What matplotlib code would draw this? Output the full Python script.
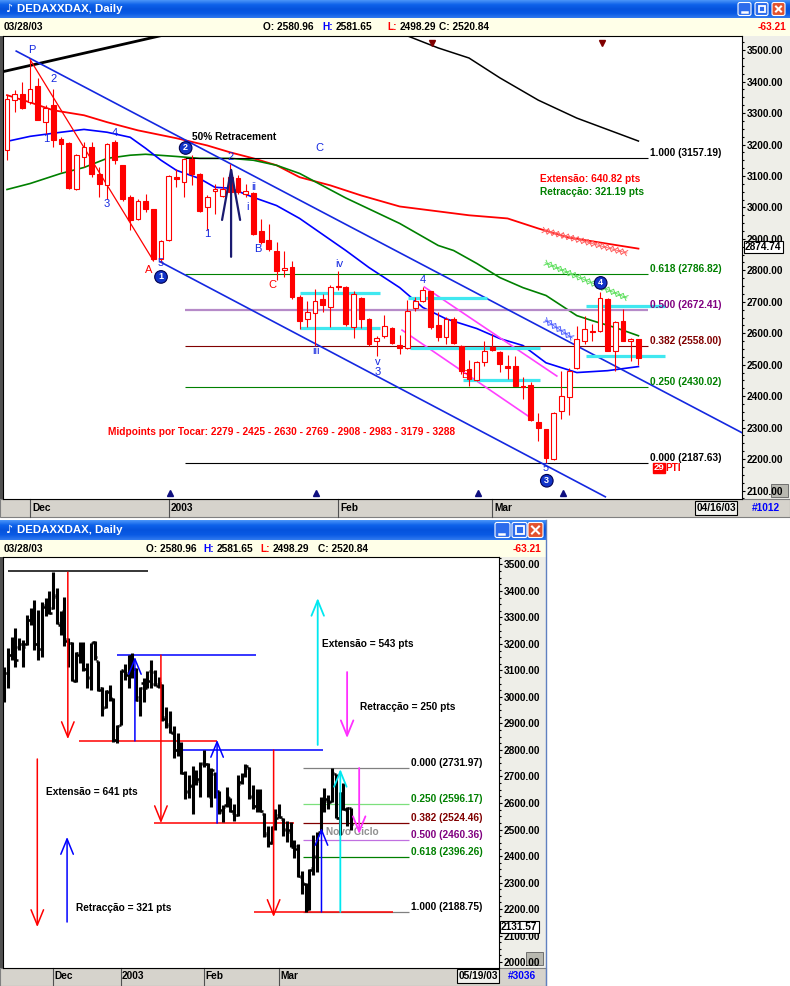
import numpy as np
import matplotlib
matplotlib.use('Agg')
import matplotlib.pyplot as plt
from matplotlib.patches import Rectangle, FancyBboxPatch
from matplotlib.colors import LinearSegmentedColormap
from matplotlib.ticker import MultipleLocator, StrMethodFormatter
from matplotlib import patheffects as pe

W, H = 790, 986
plt.rcParams['font.family'] = ['Liberation Sans', 'DejaVu Sans']
plt.rcParams['font.weight'] = 'bold'
plt.rcParams['font.size'] = 7.3

# ---- DAX daily prices, bar 0 = 27 Nov 2002 ... bar 82 = 28 Mar 2003
opens = [3182, 3341, 3360, 3335, 3385, 3272, 3325, 3219, 3205, 3059,
         3160, 3192, 3107, 3070, 3208, 3134, 3033, 2964, 3020, 2994,
         2836, 2895, 3097, 3081, 3155, 3107, 3001, 3052, 3035, 3097,
         3094, 3043, 3046, 2925, 2897, 2863, 2801, 2810, 2714, 2645,
         2663, 2709, 2682, 2751, 2748, 2621, 2711, 2645, 2574, 2592,
         2617, 2563, 2553, 2680, 2704, 2733, 2627, 2589, 2645, 2560,
         2486, 2451, 2507, 2555, 2539, 2497, 2497, 2433, 2436, 2319,
         2295, 2200, 2353, 2396, 2489, 2576, 2608, 2608, 2709, 2545,
         2638, 2575, 2580.96]
highs = [3357, 3373, 3399, 3470, 3410, 3325, 3378, 3224, 3207, 3171,
         3208, 3208, 3128, 3205, 3213, 3136, 3038, 3028, 3044, 2996,
         2895, 3102, 3123, 3158, 3166, 3109, 3038, 3073, 3097, 3139,
         3102, 3075, 3048, 2964, 2948, 2890, 2863, 2831, 2720, 2704,
         2741, 2725, 2754, 2799, 2750, 2733, 2716, 2647, 2592, 2659,
         2619, 2595, 2706, 2714, 2746, 2735, 2667, 2651, 2651, 2563,
         2515, 2513, 2576, 2598, 2544, 2532, 2529, 2462, 2444, 2345,
         2297, 2350, 2481, 2490, 2624, 2656, 2630, 2732, 2711, 2640,
         2677, 2585, 2581.65]
lows = [3150, 3304, 3314, 3330, 3277, 3235, 3192, 3112, 3059, 3056,
        3128, 3097, 3033, 3028, 3139, 3022, 2927, 2959, 2985, 2831,
        2826, 2893, 3065, 3033, 3070, 2985, 2927, 2980, 3033, 3033,
        3043, 3033, 2911, 2884, 2863, 2768, 2778, 2709, 2614, 2619,
        2560, 2667, 2621, 2736, 2624, 2585, 2617, 2560, 2529, 2585,
        2566, 2534, 2550, 2672, 2698, 2614, 2576, 2566, 2566, 2470,
        2433, 2447, 2497, 2544, 2476, 2454, 2433, 2391, 2322, 2258,
        2188, 2196, 2327, 2340, 2486, 2566, 2576, 2603, 2543, 2481,
        2574, 2513, 2498.29]
closes = [3346, 3362, 3317, 3378, 3279, 3317, 3213, 3203, 3063, 3166,
          3192, 3107, 3075, 3203, 3150, 3028, 2959, 3022, 2996, 2836,
          2892, 3100, 3089, 3155, 3107, 2990, 3033, 3058, 3059, 3049,
          3049, 3052, 2916, 2890, 2868, 2799, 2808, 2714, 2640, 2669,
          2704, 2691, 2746, 2746, 2629, 2725, 2645, 2566, 2585, 2624,
          2568, 2553, 2672, 2704, 2738, 2621, 2589, 2645, 2568, 2481,
          2454, 2509, 2544, 2547, 2502, 2491, 2433, 2428, 2324, 2300,
          2203, 2348, 2401, 2481, 2582, 2614, 2603, 2712, 2545, 2635,
          2576, 2582, 2520.84]

# earlier bars, only shown on the lower chart (bar -10 ... -1)
pre_opens = [3000, 3090, 3160, 3210, 3190, 3200, 3200, 3290, 3320, 3200]
pre_highs = [3114, 3183, 3227, 3259, 3221, 3215, 3309, 3334, 3366, 3328]
pre_lows = [2982, 3033, 3139, 3114, 3177, 3114, 3196, 3271, 3177, 3139]
pre_closes = [3090, 3160, 3210, 3140, 3200, 3190, 3290, 3320, 3200, 3180]

# moving averages (bar index, value)
ma_red_idx = [0, 3, 6, 10, 13, 17, 22, 26, 29, 32, 35, 38, 42, 46, 51, 60, 65, 69, 73, 82]
ma_red_val = [3357, 3334, 3309, 3293, 3271, 3245, 3220, 3197, 3175, 3156, 3134, 3096, 3070,
              3038, 3003, 2975, 2965, 2933, 2904, 2869]
ma_green_idx = [0, 3, 7, 10, 13, 16, 18, 22, 25, 29, 32, 35, 38, 44, 51, 56, 58, 61, 64, 67,
                70, 74, 76, 79, 82]
ma_green_val = [3057, 3076, 3108, 3127, 3156, 3166, 3169, 3162, 3156, 3156, 3150, 3134, 3108,
                3030, 2949, 2879, 2863, 2822, 2777, 2745, 2720, 2656, 2640, 2618, 2592]
ma_blue_idx = [0, 3, 7, 10, 13, 16, 18, 20, 22, 25, 27, 29, 32, 35, 38, 44, 47, 51, 54, 57,
               61, 64, 67, 70, 74, 78, 82]
ma_blue_val = [3210, 3226, 3239, 3248, 3239, 3223, 3188, 3150, 3118, 3092, 3064, 3061, 3032,
               3006, 2965, 2863, 2809, 2745, 2682, 2646, 2615, 2583, 2561, 2506, 2475, 2481, 2494]
ma_black_idx = [51, 56, 60, 64, 69, 74, 82]
ma_black_val = [3555, 3507, 3475, 3412, 3341, 3284, 3211]

month_idx = [3, 21, 43, 63]
month_labels = ['Dec', '2003', 'Feb', 'Mar']

fib_top_ratio = ['1.000', '0.618', '0.500', '0.382', '0.250', '0.000']
fib_top_price = [3157.19, 2786.82, 2672.41, 2558.00, 2430.02, 2187.63]
fib_top_line = ['#000000', '#008000', '#B68AC8', '#800000', '#008000', '#000000']
fib_top_text = ['#000000', '#008000', '#800080', '#800000', '#008000', '#000000']

fib_low_ratio = ['0.000', '0.250', '0.382', '0.500', '0.618', '1.000']
fib_low_price = [2731.97, 2596.17, 2524.46, 2460.36, 2396.26, 2188.75]
fib_low_line = ['#808080', '#7CE07C', '#800000', '#C070E0', '#008000', '#808080']
fib_low_text = ['#000000', '#008000', '#800000', '#800080', '#008000', '#000000']

midpoints = [2279, 2425, 2630, 2769, 2908, 2983, 3179, 3288]
ext_pts, retr_pts = 640.82, 321.19
last_o, last_h, last_l, last_c, last_chg = 2580.96, 2581.65, 2498.29, 2520.84, -63.21

BLUE = '#1428E0'
RED = '#FF0000'


def rect(x0, y0, x1, y1):
    return [x0 / W, 1 - y1 / H, (x1 - x0) / W, (y1 - y0) / H]


fig = plt.figure(figsize=(W / 100, H / 100), dpi=100)
fig.patch.set_facecolor('white')
bg = fig.add_axes([0, 0, 1, 1])
bg.axis('off')

title_cmap = LinearSegmentedColormap.from_list('xp', ['#4A94F8', '#0E62EA', '#0553DD', '#0A5AE4', '#3079EE'])
grad = np.linspace(0, 1, 40).reshape(-1, 1)


def window_chrome(x1, y_title, y_info, y_plot, y_strip, y_end, x_axis, buttons_x):
    bg.imshow(grad, cmap=title_cmap, extent=(0, x1, y_info, y_title), aspect='auto', zorder=1)
    bg.add_patch(Rectangle((0, y_info), x1, y_plot - y_info, fc='#FFFFE8', ec='none', zorder=1))
    bg.add_patch(Rectangle((0, y_plot), 3, y_strip - y_plot, fc='#505050', ec='none', zorder=1))
    bg.add_patch(Rectangle((x_axis, y_plot), x1 - x_axis, y_strip - y_plot, fc='#EEEEE8', ec='none', zorder=1))
    bg.add_patch(Rectangle((0, y_strip), x1, y_end - y_strip, fc='#D6D3CC', ec='#808080', lw=0.8, zorder=1))
    size = y_info - y_title - 5
    for bx, kind in zip(buttons_x, ['min', 'max', 'close']):
        by = y_title + 2.5
        fc = '#E2522E' if kind == 'close' else '#2C6CEC'
        bg.add_patch(FancyBboxPatch((bx, by), size, size, boxstyle='round,pad=0,rounding_size=2',
                                    fc=fc, ec='white', lw=0.8, zorder=3))
        if kind == 'min':
            bg.plot([bx + 4, bx + 9], [by + size - 4] * 2, color='white', lw=1.8, zorder=4)
        elif kind == 'max':
            bg.add_patch(Rectangle((bx + 3.5, by + 3.5), size - 7, size - 7, fill=False,
                                   ec='white', lw=1.3, zorder=4))
        else:
            bg.plot([bx + 4, bx + size - 4], [by + 4, by + size - 4], color='white', lw=1.5, zorder=4)
            bg.plot([bx + 4, bx + size - 4], [by + size - 4, by + 4], color='white', lw=1.5, zorder=4)
    ym = (y_title + y_info) / 2
    bg.text(5, ym, '\u266a', color='white', fontsize=8, va='center', family='DejaVu Sans', zorder=4)
    bg.text(17, ym, 'DEDAXXDAX, Daily', color='white', fontsize=8.2, va='center', zorder=4)


def info_texts(y, xs, right_x):
    bg.text(4, y, '03/28/03', va='center', zorder=4)
    bg.text(xs[0], y, f'O: {last_o:.2f}', va='center', zorder=4)
    bg.text(xs[1], y, 'H:', color='#0000FF', va='center', zorder=4)
    bg.text(xs[1] + 13.5, y, f'{last_h:.2f}', va='center', zorder=4)
    bg.text(xs[2], y, 'L:', color=RED, va='center', zorder=4)
    bg.text(xs[2] + 12.5, y, f'{last_l:.2f}', va='center', zorder=4)
    bg.text(xs[3], y, f'C: {last_c:.2f}', va='center', zorder=4)
    bg.text(right_x, y, f'{last_chg:.2f}', color=RED, ha='right', va='center', zorder=4)


window_chrome(790, 0, 18, 36, 499, 517, 742, [738, 755, 772])
window_chrome(546, 520, 540, 557, 968, 986, 499, [495, 512, 528])
bg.plot([546, 546], [520, 986], color='#6080C0', lw=1, zorder=2)
info_texts(27, [263, 322, 387, 439], 786)
info_texts(549, [146, 203, 260, 318], 541)
bg.text(716, 508, '04/16/03', ha='center', va='center', zorder=4,
        bbox=dict(fc='#F2F2EE', ec='black', lw=0.8, boxstyle='square,pad=0.15'))
bg.text(766, 508, '#1012', ha='center', va='center', color='#0000FF', zorder=4)
bg.text(478, 976, '05/19/03', ha='center', va='center', zorder=4,
        bbox=dict(fc='#F2F2EE', ec='black', lw=0.8, boxstyle='square,pad=0.15'))
bg.text(522, 976, '#3036', ha='center', va='center', color='#0000FF', zorder=4)
bg.add_patch(Rectangle((771, 484), 17, 13, fc='#B8B8B0', ec='#606060', lw=0.6, zorder=3))
bg.add_patch(Rectangle((526, 952), 17, 13, fc='#B8B8B0', ec='#606060', lw=0.6, zorder=3))
bg.set_xlim(0, W)
bg.set_ylim(H, 0)


def style_price_axis(ax, ticks):
    ax.set_xticks([])
    ax.yaxis.tick_right()
    ax.set_yticks(ticks)
    ax.yaxis.set_major_formatter(StrMethodFormatter('{x:.2f}'))
    ax.yaxis.set_minor_locator(MultipleLocator(25))
    ax.tick_params(axis='y', which='major', direction='out', length=2.5, width=0.8, pad=0.8, labelsize=7.3)
    ax.tick_params(axis='y', which='minor', direction='out', length=1.2, width=0.8)
    for s in ax.spines.values():
        s.set_linewidth(0.8)


def date_strip(ax, y_mid, y_bot):
    for idx, lab in zip(month_idx, month_labels):
        ax.plot([idx, idx], [0, y_bot], color='#505050', lw=0.8, transform=ax.get_xaxis_transform(),
                clip_on=False)
        ax.text(idx + 0.3, y_mid, lab, transform=ax.get_xaxis_transform(), va='center', ha='left',
                clip_on=False)


def arrow(ax, x, y_from, y_to, color, lw=1.1, hl=1.1, hw=0.45):
    ax.annotate('', xy=(x, y_to), xytext=(x, y_from), zorder=7,
                arrowprops=dict(arrowstyle=f'->,head_length={hl},head_width={hw}', color=color,
                                lw=lw, shrinkA=0, shrinkB=0, mutation_scale=10))


def crossed_line(ax, xs, ys, color):
    effects = [pe.TickedStroke(spacing=3.6, angle=a, length=0.75, linewidth=0.7, foreground=color)
               for a in (45, -135, 135, -45)] + [pe.Normal()]
    ax.plot(xs, ys, color=color, lw=0.6, path_effects=effects, zorder=6)


# ======================= upper chart: candlesticks =======================
ax1 = fig.add_axes(rect(3, 36, 742, 499))
ax1.set_xlim(-0.52, 95.45)
ax1.set_ylim(2073, 3545)
style_price_axis(ax1, range(2100, 3501, 100))
date_strip(ax1, -0.0205, -0.039)

ax1.plot(ma_black_idx, ma_black_val, color='black', lw=1.1, zorder=2)
ax1.plot([-1, 25], [3429, 3574], color='black', lw=2.0, zorder=2)
ax1.plot(ma_red_idx, ma_red_val, color=RED, lw=1.3, zorder=2)
ax1.plot(ma_green_idx, ma_green_val, color='#008000', lw=1.2, zorder=2)
ax1.plot(ma_blue_idx, ma_blue_val, color='#0000FF', lw=1.2, zorder=2)

for price, lc, tc, ratio in zip(fib_top_price, fib_top_line, fib_top_text, fib_top_ratio):
    ax1.hlines(price, 23.1, 83.2, color=lc, lw=1.6 if ratio == '0.500' else 0.8, zorder=2)
    ax1.text(83.5, price, f'{ratio} ({price:.2f})', color=tc, va='bottom', ha='left', zorder=6)

# trend channel and wave lines
ax1.plot([1.2, 95.5], [3497, 2283], color=BLUE, lw=1.2, zorder=3)
ax1.plot([19.9, 77.7], [2827, 2080], color=BLUE, lw=1.2, zorder=3)
ax1.plot([3, 19], [highs[3], lows[19]], color=RED, lw=0.9, zorder=3)
ax1.plot([54.2, 71.4], [2747, 2464], color='#FF40FF', lw=1.2, zorder=3)
ax1.plot([51.3, 68.2], [2610, 2328], color='#FF40FF', lw=1.2, zorder=3)

for y, x0, x1 in [(2728, 38.1, 48.4), (2617, 38.1, 48.4), (2712, 52.1, 62.3), (2554, 52.3, 69.2),
                  (2452, 59.2, 69.2), (2687, 75.2, 85.5), (2528, 75.2, 85.5)]:
    ax1.hlines(y, x0, x1, color='#40E8F0', lw=2.3, zorder=4)

crossed_line(ax1, [69.6, 80.5], [2928, 2855], '#FF6060')
crossed_line(ax1, [69.9, 80.5], [2824, 2712], '#60E060')
crossed_line(ax1, [69.9, 73.4], [2642, 2585], '#5060FF')

for i in range(len(opens)):
    ax1.vlines(i, lows[i], highs[i], color=RED, lw=0.8, zorder=5)
    lo, hi = sorted((opens[i], closes[i]))
    up = closes[i] >= opens[i]
    ax1.add_patch(Rectangle((i - 0.31, lo), 0.62, max(hi - lo, 3), fc='white' if up else RED,
                            ec=RED, lw=0.8, zorder=5))

arrow(ax1, 29.1, 2843, highs[29], '#1A1A70', lw=1.6, hl=3.6, hw=0.65)

wave_labels = [(3.25, 3500, 'P', BLUE), (6.0, 3408, '2', BLUE), (5.1, 3218, '1', BLUE),
               (14.0, 3237, '4', BLUE), (13.0, 3011, '3', BLUE), (18.4, 2801, 'A', RED),
               (20.0, 2823, '5', BLUE), (29.0, 3160, '2', BLUE), (40.6, 3189, 'C', BLUE),
               (26.0, 2916, '1', BLUE), (32.1, 3065, 'ii', BLUE), (31.2, 3001, 'i', BLUE),
               (32.6, 2868, 'B', BLUE), (34.5, 2754, 'C', RED), (43.1, 2820, 'iv', BLUE),
               (40.1, 2544, 'iii', BLUE), (48.1, 2509, 'v', BLUE), (48.1, 2477, '3', BLUE),
               (54.0, 2769, '4', BLUE), (59.5, 2467, 'B', RED), (70.0, 2172, '5', BLUE)]
for x, y, t, col in wave_labels:
    ax1.text(x, y, t, color=col, ha='center', va='center', fontsize=8, fontweight='normal', zorder=8)
for x, y, t in [(20.0, 2779, '1'), (23.2, 3189, '2'), (70.1, 2131, '3'), (77.1, 2760, '4')]:
    ax1.text(x, y, t, color='white', ha='center', va='center', fontsize=6.5, zorder=8,
             bbox=dict(boxstyle='circle,pad=0.2', fc='#1234C8', ec='#000050', lw=0.8))

ax1.text(24.0, 3224, '50% Retracement', color='black', ha='left', va='center', zorder=8)
ax1.text(69.2, 3090, f'Extens\u00e3o: {ext_pts:.2f} pts', color=RED, ha='left', va='center', zorder=8)
ax1.text(69.2, 3049, f'Retrac\u00e7\u00e3o: {retr_pts:.2f} pts', color='#008000', ha='left', va='center', zorder=8)
ax1.text(13.1, 2286, 'Midpoints por Tocar: ' + ' - '.join(str(m) for m in midpoints), color=RED,
         ha='left', va='center', zorder=8)
ax1.text(84.0, 2172, '29', color='white', ha='left', va='center', fontsize=6.8, zorder=8,
         bbox=dict(boxstyle='square,pad=0.08', fc=RED, ec=RED))
ax1.text(85.5, 2172, 'PTI', color=RED, ha='left', va='center', zorder=8)

ax1.plot([21.2, 40.1, 61.2, 72.2], [0.012] * 4, '^', ms=4, color='#101080',
         transform=ax1.get_xaxis_transform(), zorder=8)
ax1.plot([55.2, 77.3], [0.984] * 2, 'v', ms=4, color='#800000', transform=ax1.get_xaxis_transform(), zorder=8)
ax1.text(1.004, 2874.74, '2874.74', transform=ax1.get_yaxis_transform(), ha='left', va='center',
         clip_on=False, zorder=9, bbox=dict(boxstyle='square,pad=0.12', fc='white', ec='black', lw=0.8))

# ======================= lower chart: OHLC bars =======================
ax2 = fig.add_axes(rect(3, 557, 499, 968))
ax2.set_xlim(-10.3, 121.3)
ax2.set_ylim(1977.6, 3528)
style_price_axis(ax2, range(2000, 3501, 100))
date_strip(ax2, -0.0195, -0.044)

bar_idx = np.arange(-len(pre_opens), len(opens))
o_all = np.array(pre_opens + opens)
h_all = np.array(pre_highs + highs)
l_all = np.array(pre_lows + lows)
c_all = np.array(pre_closes + closes)
ax2.vlines(bar_idx, l_all, h_all, color='black', lw=2.2, zorder=5)
ax2.hlines(o_all, bar_idx - 0.6, bar_idx, color='black', lw=1.8, zorder=5)
ax2.hlines(c_all, bar_idx, bar_idx + 0.6, color='black', lw=1.8, zorder=5)

for price, lc, tc, ratio in zip(fib_low_price, fib_low_line, fib_low_text, fib_low_ratio):
    ax2.hlines(price, 69.4, 97.4, color=lc, lw=0.9, zorder=3)
    ax2.text(98.0, price, f'{ratio} ({price:.2f})', color=tc, va='bottom', ha='left', zorder=6)

ax2.hlines(3474, -8.9, 28.1, color='black', lw=1.1, zorder=4)
ax2.hlines(2834, 9.9, 46.4, color=RED, lw=1.1, zorder=4)
ax2.hlines(3158, 19.9, 56.7, color='#0000FF', lw=1.1, zorder=4)
ax2.hlines(2524, 29.7, 66.8, color=RED, lw=1.1, zorder=4)
ax2.hlines(2800, 37.4, 74.7, color='#0000FF', lw=1.1, zorder=4)
ax2.hlines(2189, 56.4, 93.2, color=RED, lw=1.1, zorder=4)

arrow(ax2, 6.9, 3471, 2841, RED)
arrow(ax2, 24.7, 2834, 3151, '#0000FF')
arrow(ax2, 31.6, 3158, 2524, RED)
arrow(ax2, 46.5, 2524, 2838, '#0000FF')
arrow(ax2, 61.5, 2800, 2170, RED)
arrow(ax2, 73.2, 2819, 3373, '#00E8F0', lw=1.3)
arrow(ax2, 81.0, 3094, 2845, '#FF30FF', lw=1.3)
arrow(ax2, 74.2, 2189, 2506, '#0000FF')
arrow(ax2, 79.2, 2189, 2728, '#00E8F0', lw=1.3)
arrow(ax2, 84.2, 2732, 2483, '#FF30FF', lw=1.3)
arrow(ax2, -1.2, 2766, 2132, RED)
arrow(ax2, 6.7, 2151, 2472, '#0000FF')

ax2.text(74.4, 3200, 'Extens\u00e3o = 543 pts', ha='left', va='center', zorder=8)
ax2.text(84.5, 2962, 'Retrac\u00e7\u00e3o = 250 pts', ha='left', va='center', zorder=8)
ax2.text(1.0, 2641, 'Extens\u00e3o = 641 pts', ha='left', va='center', zorder=8)
ax2.text(9.1, 2204, 'Retrac\u00e7\u00e3o = 321 pts', ha='left', va='center', zorder=8)
ax2.text(75.5, 2490, 'Novo Ciclo', color='#909090', ha='left', va='center', zorder=4)
ax2.text(1.004, 2131.57, '2131.57', transform=ax2.get_yaxis_transform(), ha='left', va='center',
         clip_on=False, zorder=9, bbox=dict(boxstyle='square,pad=0.12', fc='white', ec='black', lw=0.8))

fig.savefig('out.png', dpi=100)
